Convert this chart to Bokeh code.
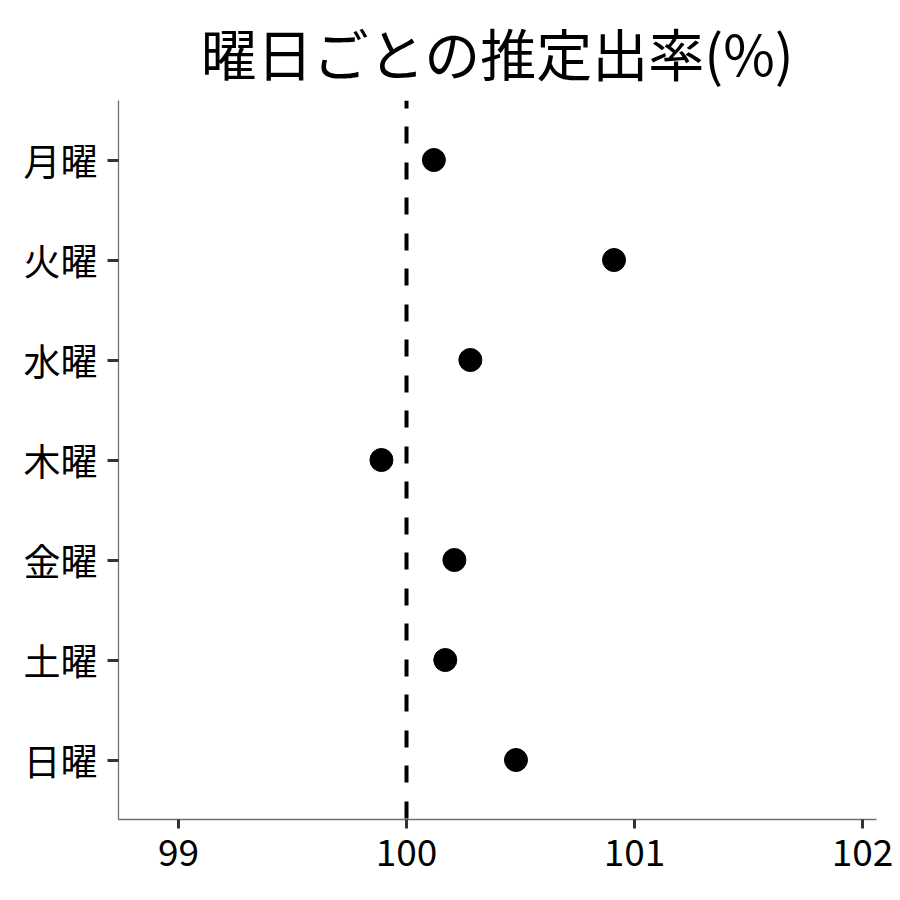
from bokeh.plotting import figure
from bokeh.models import FactorRange, Range1d, FixedTicker, Span, ColumnDataSource
from bokeh.embed import file_html
from bokeh.resources import INLINE

# ---- data ----
days = ["月曜", "火曜", "水曜", "木曜", "金曜", "土曜", "日曜"]
rates = [100.12, 100.91, 100.28, 99.89, 100.21, 100.17, 100.48]
x_ticks = [99, 100, 101, 102]
ref_value = 100
title_text = "曜日ごとの推定出率(%)"

FONT = "Noto Sans CJK JP"

src = ColumnDataSource(data=dict(day=days, rate=rates))

p = figure(
    width=900, height=900,
    y_range=FactorRange(factors=list(reversed(days)), range_padding=0.19 / 7),
    x_range=Range1d(98.737, 102.061),
    output_backend="svg", toolbar_location=None,
    min_border_left=118, min_border_right=24, min_border_top=100, min_border_bottom=81,
)

p.title.text = title_text
p.title.align = "center"
p.title.text_font = FONT
p.title.text_font_size = "56px"
p.title.text_font_style = "normal"
p.title.text_color = "black"
p.title.standoff = 17

p.outline_line_color = None
p.xgrid.grid_line_color = None
p.ygrid.grid_line_color = None
p.background_fill_color = "white"
p.border_fill_color = "white"

for ax in (p.xaxis, p.yaxis):
    ax.axis_line_color = "#707070"
    ax.axis_line_width = 1.3
    ax.major_tick_line_color = "#333333"
    ax.major_tick_line_width = 3
    ax.major_tick_in = 0
    ax.minor_tick_line_color = None
    ax.major_label_text_font = FONT
    ax.major_label_text_font_size = "37px"
    ax.major_label_text_color = "black"

p.yaxis.major_tick_out = 11
p.yaxis.major_label_standoff = 10
p.xaxis.major_tick_out = 9
p.xaxis.major_label_standoff = 10
p.xaxis.ticker = FixedTicker(ticks=x_ticks)

vline = Span(location=ref_value, dimension="height", line_color="black",
             line_width=4, line_dash="17 18 17 19", line_dash_offset=9)
p.add_layout(vline)

p.scatter(x="rate", y="day", source=src, size=23, color="black")

open("out.html", "w").write(file_html(p, INLINE))
